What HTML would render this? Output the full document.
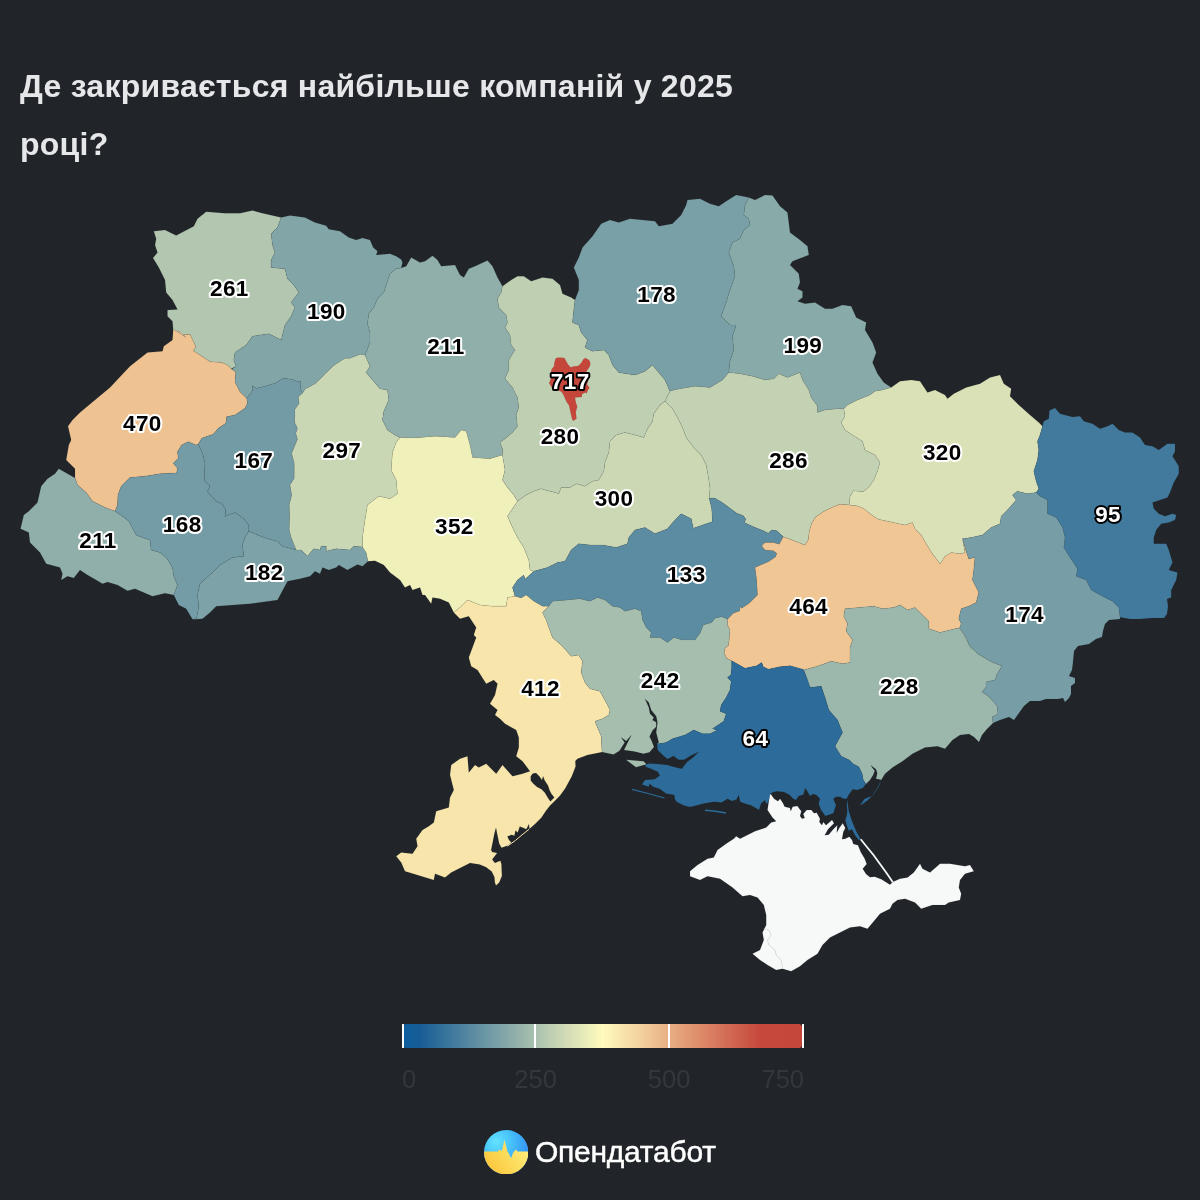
<!DOCTYPE html>
<html lang="uk"><head><meta charset="utf-8"><title>Опендатабот</title>
<style>
html,body{margin:0;padding:0;background:#212529;}
body{width:1200px;height:1200px;position:relative;overflow:hidden;font-family:"Liberation Sans","DejaVu Sans",sans-serif;}
h1{position:absolute;left:20px;top:58px;margin:0;width:760px;font-size:32px;line-height:57.5px;font-weight:700;color:#e6e7e9;letter-spacing:.25px;}
svg.map{position:absolute;left:0;top:0;}
svg.map path{stroke:rgba(30,45,40,.14);stroke-width:.45;stroke-linejoin:round;}
svg.map text{font-family:"Liberation Sans","DejaVu Sans",sans-serif;font-weight:700;font-size:22.5px;letter-spacing:.4px;text-anchor:middle;fill:#000;stroke:#fff;stroke-width:4px;paint-order:stroke fill;stroke-linejoin:round;}
svg.map text.inv{fill:#fff;stroke:#000;}
.legend{position:absolute;left:403px;top:1023.9px;width:398.5px;height:24.3px;border-radius:3.5px;background:linear-gradient(90deg,rgb(13,94,160) 0.0%,rgb(22,92,150) 4.0%,rgb(45,108,154) 8.5%,rgb(69,124,158) 13.3%,rgb(92,140,162) 17.7%,rgb(117,157,166) 22.7%,rgb(144,175,170) 28.1%,rgb(170,193,175) 33.3%,rgb(195,210,179) 38.1%,rgb(218,225,183) 42.7%,rgb(239,240,186) 46.9%,rgb(255,250,189) 50.0%,rgb(248,229,172) 54.9%,rgb(243,210,157) 59.2%,rgb(238,194,145) 62.7%,rgb(232,175,131) 66.7%,rgb(222,140,106) 74.3%,rgb(209,104,83) 82%,rgb(198,72,60) 89.5%,rgb(197,71,59) 100%);}
.tick{position:absolute;top:1023.8px;width:2.2px;height:24.5px;background:#fff;}
.tl{position:absolute;top:1064.8px;font-size:25.5px;color:#33383c;width:80px;}
.logo{position:absolute;left:483.9px;top:1130.1px;}
.brand{position:absolute;left:535px;top:1134.6px;font-size:30px;color:#fff;font-weight:400;letter-spacing:-.25px;-webkit-text-stroke:.45px #fff;}
</style></head><body>
<h1>Де закривається найбільше компаній у 2025 році?</h1>
<svg class="map" width="1200" height="1200" viewBox="0 0 1200 1200">
<g>
<path d="M173.2,330 172.5,321.2 167.5,316.2 167.5,310 177.5,309.5 172.5,300 166.2,292.5 165,280 158.8,267.5 153,258 157.5,252.5 155,245 156.2,238.8 153.8,231.2 165,230 176.2,235.5 193.8,226.2 197.5,218.8 206.2,211.8 225,213.2 240,213.2 252.5,210.5 262.5,213.2 281.2,217.5 277.5,227.5 271.2,233.8 272.5,245 275,252.5 271.2,260 271.2,267.5 285,268.8 287.5,278.8 293.8,285 298.8,292.5 291.2,302.5 295,307.5 291.2,316.2 285,325 281.2,340 268.8,333.8 252.5,336.2 246.2,345 235,352.5 233.8,360 236.2,366.2 231.2,368.8 227.5,365 221.7,362.5 210,361.7 200,355 193.3,350.8 195.8,346.7 190,334.2 181.7,335 178.3,330 186.2,337.5 175,330 173.2,330Z" fill="#b2c6b0"/>
<path d="M75,478 75,468.8 66.2,460 68.8,445 71.2,440 68,426.2 72.5,420 80,412.5 95,400 110,387.5 130,366.2 147.5,352.5 162.5,351.2 163.8,346.2 172.5,340 173.2,330 175,330 186.2,337.5 178.3,330 181.7,335 190,334.2 195.8,346.7 193.3,350.8 200,355 210,361.7 221.7,362.5 227.5,365 231.7,369.2 235.8,371.7 235,381.7 240,391.7 246.7,398.3 247.5,403.3 245,408.3 235,415 226.7,416.7 225.8,423.3 218.3,428.3 213.3,434.2 201.7,438.3 198.3,444.2 195.8,445 188.3,441.7 181.7,445 177.5,451.7 178.3,458.3 173.3,463.3 177.5,468.3 176.7,472.5 176.2,473 160,473.8 145,476.2 130,477.5 121.2,486.2 118,495 117.5,505 115,511.2 105,507.5 92.5,501.2 86.2,492.5 77.5,485 75,478Z" fill="#eec291"/>
<path d="M173.8,595 165,593.2 152.5,596.2 143.8,592.5 135,588.8 127.5,590.8 117.5,585 107.5,582 102.5,583.8 96.2,580 87.5,575 80,570 73.8,578 67.5,576.2 61.2,580 62.5,573.8 60,567.5 46.2,563.8 40,552.5 30,542.5 28.8,532.5 20.5,528.8 23.8,515 28.8,511.2 37.5,502.5 41.2,486.2 47.5,478.8 55,473.8 58.8,468.8 67.5,473.8 75,478 77.5,485 86.2,492.5 92.5,501.2 105,507.5 115,511.2 122.5,516.2 128.8,521.2 136.2,535 142.5,537.5 150,540 151.2,550 160,552.5 166.2,557.5 172.5,567.5 173.8,576.2 177.5,585 173.8,595Z" fill="#90afaa"/>
<path d="M173.8,595 177.5,585 173.8,576.2 172.5,567.5 166.2,557.5 160,552.5 151.2,550 150,540 142.5,537.5 136.2,535 128.8,521.2 122.5,516.2 115,511.2 117.5,505 118,495 121.2,486.2 130,477.5 145,476.2 160,473.8 176.2,473 176.7,472.5 177.5,468.3 173.3,463.3 178.3,458.3 177.5,451.7 181.7,445 188.3,441.7 195.8,445 198.3,444.2 202.5,453.3 205,463.3 204.2,480 210,485.8 207.5,491.7 216.7,501.7 221.7,503.3 225.8,510 225,516.7 225,516.2 235,512.5 243.8,518.8 248.8,525 248.8,531.2 245,537.5 242.5,545 243.8,556.2 232.5,557.5 220,565 212.5,572.5 200,583.8 197.5,595 198.8,606.2 197.5,613.8 196.2,619.2 192.5,619.2 186.2,608.8 178.8,605 173.8,595Z" fill="#739ca6"/>
<path d="M198.3,444.2 201.7,438.3 213.3,434.2 218.3,428.3 225.8,423.3 226.7,416.7 235,415 245,408.3 247.5,403.3 246.7,398.3 252.5,390.8 252.5,385.8 256.7,388.3 266.7,385.8 275,383.3 283.3,378.3 291.7,379.2 298.3,381.7 300.8,380.8 300.8,389.2 302.5,393.3 298.3,396.7 299.2,403.3 295,409.2 294.7,422.5 297.5,428.3 295.8,433.3 297.5,439.2 291.7,453.3 294.2,463.3 294.2,478.3 290,485 291.7,495 289.2,505 289.7,515 289.2,530 291.2,537.5 296.2,550 282.5,546.2 277.5,541.2 267.5,538.8 257.5,535 248.8,531.2 248.8,525 243.8,518.8 235,512.5 225,516.2 225,516.7 225.8,510 221.7,503.3 216.7,501.7 207.5,491.7 210,485.8 204.2,480 205,463.3 202.5,453.3 198.3,444.2Z" fill="#739ba6"/>
<path d="M281.2,217.5 290,215.5 305,217.5 315,222.5 326.2,225.8 328.8,229.2 340,231.2 348.8,237.5 356.2,240 362.5,238 370,240 373.2,247.5 377.5,251.2 376.2,255 390,253.8 396.2,256.2 401.2,259.5 402.5,262.5 401.2,268 396.2,268.8 390,273.8 386.2,285 383.8,292.5 377.5,298.8 373.8,307.5 368.8,313.8 367.5,323.8 370,332.5 370,342.5 365,355 360,354.2 350,358.3 345,358.3 333.3,365.8 323.3,375.8 315.8,383.3 305,389.2 302.5,393.3 300.8,389.2 300.8,380.8 298.3,381.7 291.7,379.2 283.3,378.3 275,383.3 266.7,385.8 256.7,388.3 252.5,385.8 252.5,390.8 246.7,398.3 240,391.7 235,381.7 235.8,371.7 231.7,369.2 236.2,366.2 233.8,360 235,352.5 246.2,345 252.5,336.2 268.8,333.8 281.2,340 285,325 291.2,316.2 295,307.5 291.2,302.5 298.8,292.5 293.8,285 287.5,278.8 285,268.8 271.2,267.5 271.2,260 275,252.5 272.5,245 271.2,233.8 277.5,227.5 281.2,217.5Z" fill="#82a6a8"/>
<path d="M302.5,393.3 305,389.2 315.8,383.3 323.3,375.8 333.3,365.8 345,358.3 350,358.3 360,354.2 365,355 370,366.2 366.2,372.5 372.5,380 380,388.8 387.5,390 388.8,400 383.8,411.2 382.5,420 387.5,430 395,435 400,437.5 396.2,442.5 392.5,452.5 391.2,470 396.2,480 397.5,493.8 390,498.8 378.8,496.2 367.5,505 365,520 362.5,537.5 362.5,547 353.8,546.2 350,550 336.2,548.8 326.2,551.2 326.2,546.2 321.2,546.2 320,550 313.8,548.8 307.5,556.2 301.2,550 296.2,550 291.2,537.5 289.2,530 289.7,515 289.2,505 291.7,495 290,485 294.2,478.3 294.2,463.3 291.7,453.3 297.5,439.2 295.8,433.3 297.5,428.3 294.7,422.5 295,409.2 299.2,403.3 298.3,396.7 302.5,393.3Z" fill="#cad7b4"/>
<path d="M196.2,619.2 197.5,613.8 198.8,606.2 197.5,595 200,583.8 212.5,572.5 220,565 232.5,557.5 243.8,556.2 242.5,545 245,537.5 248.8,531.2 257.5,535 267.5,538.8 277.5,541.2 282.5,546.2 296.2,550 301.2,550 307.5,556.2 313.8,548.8 320,550 321.2,546.2 326.2,546.2 326.2,551.2 336.2,548.8 350,550 353.8,546.2 362.5,547 366.2,552.5 368,561.2 362.5,566.2 357.5,564.5 347.5,570 338.8,565 336.2,567.5 328.8,570 322.5,567.5 320,573.8 315,571.2 310,576.2 300,578.8 287.5,581.2 277.5,600 277.5,600 250,603.8 216.2,606.2 210,612.5 202.5,618.8 196.2,619.2Z" fill="#7da2a7"/>
<path d="M401.2,268 406.2,266.2 411.2,257.5 420,262.5 425,261.2 432.5,255.8 437.5,260 441.2,266.2 455,265 460,275 463.8,277.5 468.8,268.8 475,266.2 487.5,260.5 492.5,266.2 497.5,277.5 502.5,286.2 501.2,292.5 497.5,298.8 498.8,307.5 506.2,315 507.5,322.5 505,327.5 510,335 511.2,345 515,350 508.8,360 508.8,370 505,378.8 512.5,387.5 517.5,397.5 518.8,407.5 516.2,415 517.5,426.2 512.5,432.5 505,438.8 500,442.5 502.5,448.8 502.5,455 490,458.8 472.5,457.5 470,445 466.2,431.2 461.2,430 455,437.5 435,436.2 415,438 400,437.5 395,435 387.5,430 382.5,420 383.8,411.2 388.8,400 387.5,390 380,388.8 372.5,380 366.2,372.5 370,366.2 365,355 370,342.5 370,332.5 367.5,323.8 368.8,313.8 373.8,307.5 377.5,298.8 383.8,292.5 386.2,285 390,273.8 396.2,268.8 401.2,268Z" fill="#90afaa"/>
<path d="M400,437.5 415,438 435,436.2 455,437.5 461.2,430 466.2,431.2 470,445 472.5,457.5 490,458.8 502.5,455 505,470 502.5,480 507.5,487.5 513.8,495 517.5,501.2 507.5,516.2 512.5,527.5 517.5,537.5 523.8,547.5 528.8,560 530,570 533.8,571.2 525,579.2 523.8,575 517.5,580 512.5,587.5 515,596.2 507.5,597.5 506.2,606.2 505,606.2 492.5,606.2 480,605 467.5,600 460,607.5 453.8,612.5 448.8,602.5 440,598.8 432.5,597.5 431.2,603.8 425,595 422.5,595 420,587.5 412.5,590 410,585 405,587.5 400,580 390,572.5 383.8,565 375,560.8 368,561.2 366.2,552.5 362.5,547 362.5,537.5 365,520 367.5,505 378.8,496.2 390,498.8 397.5,493.8 396.2,480 391.2,470 392.5,452.5 396.2,442.5 400,437.5Z" fill="#eff0ba"/>
<path d="M502.5,286.2 511.2,280 517.5,276.2 523.8,276.2 531.2,281.2 542.5,277.5 552.5,278.8 560,285 562.5,293.8 571.2,297.5 575,300 573.8,310 572.5,322.5 578.8,325 581.2,332.5 587.5,340 585,347.5 592.5,351.2 603.8,350 608.8,355 612.5,365 618.8,372.5 635,375 645,371.2 652.5,365 658.8,372.5 665,380 670,391.2 665,401.2 660,405 653.8,413.8 652.5,421.2 647.5,428.8 643.8,437.5 635,435 625,432.5 616.2,435 610,441.2 608.8,452.5 605,462.5 603.8,471.2 598.8,480 592.5,481.2 585,486.2 576.2,483.8 570,487.5 561.2,487.5 558.8,493.8 555,492.5 545,490 541.2,488.8 533.8,491.2 526.2,495 517.5,501.2 513.8,495 507.5,487.5 502.5,480 505,470 502.5,455 502.5,448.8 500,442.5 505,438.8 512.5,432.5 517.5,426.2 516.2,415 518.8,407.5 517.5,397.5 512.5,387.5 505,378.8 508.8,370 508.8,360 515,350 511.2,345 510,335 505,327.5 507.5,322.5 506.2,315 498.8,307.5 497.5,298.8 501.2,292.5 502.5,286.2Z" fill="#bfcfb2"/>
<path d="M575,300 578.8,290 578.8,280 573.8,267.5 578.8,257.5 582.5,247.5 592.5,236.2 601.2,223.8 610,220 618.8,222.5 630,218.8 642.5,220 655,221.2 658.8,226.2 672.5,223.8 681.2,215 686.2,205 687.5,200 700,198.8 710,203.8 718.8,206.2 726.2,201.2 736.2,195 742.5,196.2 748.8,197.5 745,205 743.8,215 748.8,218.8 750,225 743.8,230 740,238.8 732.5,242.5 728.8,252.5 733.8,266.2 735,276.2 730,290 726.2,302.5 721.2,316.2 730,325 736.2,325 732.5,336.2 733.8,350 730,361.2 728.8,372.5 722.5,380 710,387.5 695,386.2 680,388.8 673.8,390 670,391.2 665,380 658.8,372.5 652.5,365 645,371.2 635,375 618.8,372.5 612.5,365 608.8,355 603.8,350 592.5,351.2 585,347.5 587.5,340 581.2,332.5 578.8,325 572.5,322.5 573.8,310 575,300Z" fill="#7aa0a7"/>
<path d="M748.8,197.5 755,200 765,195 772.5,195.5 780,206.2 787.5,212.5 790,232.5 800,240 807.5,246.2 808.8,255 792.5,261.2 790,265 798.8,273.8 800,282.5 797.5,288.8 802.5,291.2 802.5,297.5 797.5,301.2 805,303.8 815,302.5 825,308.8 832.5,308.8 842.5,305 851.2,306.2 856.2,317.5 866.2,322.5 865,330 872.5,342.5 876.2,352.5 872.5,362.5 877.5,373.8 883.8,382.5 891.2,387.5 882.5,390 875,391.2 870,395 857.5,400 847.5,405 843.8,408.8 837.5,408.8 825,410 817.5,412.5 817.5,406.2 811.2,397.5 808.8,390 802.5,380 800,372.5 787.5,377.5 778.8,373.8 773.8,378.8 765,380 752.5,376.2 740,373.8 728.8,372.5 730,361.2 733.8,350 732.5,336.2 736.2,325 730,325 721.2,316.2 726.2,302.5 730,290 735,276.2 733.8,266.2 728.8,252.5 732.5,242.5 740,238.8 743.8,230 750,225 748.8,218.8 743.8,215 745,205 748.8,197.5Z" fill="#88aaa9"/>
<path d="M670,391.2 673.8,390 680,388.8 695,386.2 710,387.5 722.5,380 728.8,372.5 740,373.8 752.5,376.2 765,380 773.8,378.8 778.8,373.8 787.5,377.5 800,372.5 802.5,380 808.8,390 811.2,397.5 817.5,406.2 817.5,412.5 825,410 837.5,408.8 843.8,408.8 845,416.2 841.2,422.5 845,430 852.5,435 862.5,441.2 865,450 875,455 880,462.5 877.5,471.2 873.8,480 869.2,486.7 863.3,491.7 853.3,490.8 850,496.7 849.2,505 840,504.2 831.7,507.5 823.3,511.7 815.8,516.7 811.7,523.3 809.2,531.7 808.3,540 805,545 798.3,542.5 790,539.2 783.3,536.7 776.7,530.8 771.7,530 768.3,533.3 763.3,530.8 753.3,526.7 744.2,522.5 745.8,519.2 743.3,515.8 736.7,513.3 723.3,503.3 715,498.3 709.2,498.3 710,488.3 708.8,480 706.2,465 701.2,455 693.8,447.5 686.2,437.5 682.5,427.5 677.5,417.5 672.5,408.8 665,401.2 670,391.2Z" fill="#c3d2b3"/>
<path d="M517.5,501.2 526.2,495 533.8,491.2 541.2,488.8 545,490 555,492.5 558.8,493.8 561.2,487.5 570,487.5 576.2,483.8 585,486.2 592.5,481.2 598.8,480 603.8,471.2 605,462.5 608.8,452.5 610,441.2 616.2,435 625,432.5 635,435 643.8,437.5 647.5,428.8 652.5,421.2 653.8,413.8 660,405 665,401.2 672.5,408.8 677.5,417.5 682.5,427.5 686.2,437.5 693.8,447.5 701.2,455 706.2,465 708.8,480 710,488.3 709.2,498.3 711.7,508.3 712.5,521.7 705,524.2 693.3,528.3 691.2,518.8 681.2,513.8 673.8,521.2 667.5,528.8 655,533.8 645,527.5 635,530 628.8,537.5 627.5,543.8 616.2,547.5 602.5,545 590,545 578.8,543.8 571.2,550 565,561.2 557.5,562.5 547.5,567.5 533.8,571.2 530,570 528.8,560 523.8,547.5 517.5,537.5 512.5,527.5 507.5,516.2 517.5,501.2Z" fill="#ccd8b4"/>
<path d="M533.8,571.2 547.5,567.5 557.5,562.5 565,561.2 571.2,550 578.8,543.8 590,545 602.5,545 616.2,547.5 627.5,543.8 628.8,537.5 635,530 645,527.5 655,533.8 667.5,528.8 673.8,521.2 681.2,513.8 691.2,518.8 693.3,528.3 705,524.2 712.5,521.7 711.7,508.3 709.2,498.3 715,498.3 723.3,503.3 736.7,513.3 743.3,515.8 745.8,519.2 744.2,522.5 753.3,526.7 763.3,530.8 768.3,533.3 771.7,530 776.7,530.8 783.3,536.7 779.2,544.2 773.3,542.5 765,542.5 761.7,545.8 765,550 773.3,550.8 776.7,553.3 775.8,556.7 768.3,561.7 755,567.5 756.7,580 757.5,595 749.2,603.3 741.7,608.3 740,606.7 740,610.8 733.3,613.3 727.5,619.2 721.7,616.7 715,618.3 711.7,622.5 703.3,625 700,633.3 695,640 682.5,640 673.8,637.5 667.5,642.5 660,637.5 650,637.5 651.2,632.5 646.2,627.5 642.5,620 641.2,611.2 635,608.8 625,611.2 620,607.5 612.5,606.2 605,600 597.5,597.5 590,601.2 580,598.8 567.5,600 552.5,601.2 548.8,606.2 542.5,606.2 533.8,601.2 526.2,595 521.2,598 515,596.2 512.5,587.5 517.5,580 523.8,575 525,579.2 533.8,571.2Z" fill="#5c8ca2"/>
<path d="M453.8,612.5 460,607.5 467.5,600 480,605 492.5,606.2 505,606.2 506.2,606.2 507.5,597.5 515,596.2 521.2,598 526.2,595 533.8,601.2 542.5,606.2 548.8,606.2 542.5,612.5 546.2,620 548.8,627.5 552.5,637.5 562.5,646.2 571.2,656.2 578.8,655 582.5,661.2 581.2,672.5 585,682.5 590,688.8 600,691.2 606.2,702.5 610,710 608.8,715 602.5,718.8 595,721.2 597.5,727.5 601.2,736.2 602,752 600,752.5 587.5,755 577.5,758.8 575.3,761.1 575.6,766.5 571.8,776.2 565.3,788.2 559.9,795.7 554.5,801.2 550.1,805.5 545.8,810.9 541.5,817.4 535,823.9 529.4,829 529,823.9 526.3,829.3 524.2,828.2 519.8,826.6 517.7,832.6 515.5,830.4 514.4,835.8 511.7,834.7 507.4,836.4 509,840.1 511.2,842.3 507.9,845.6 501.4,847.7 499.2,843.4 497.1,833.6 496,827.7 494.4,833.6 492.7,842.3 491.1,849.9 492.2,852.1 497.1,853.1 492.2,859.6 494.9,862.9 500.3,860.7 501.4,864 501.9,875.9 499.2,882.4 496,885.6 494.9,882.4 494.4,877 491.7,871.6 486.2,867.2 479.7,864.5 470,862.9 451.2,872.5 445,877.5 435,873.8 433.8,880 405,871.2 401.2,862.5 396.2,856.2 401.2,852.5 412.5,853.8 417.5,846.2 416.2,838.8 422.5,830 428.8,826.2 433.8,822.5 436.2,811.2 448.8,807.5 450,797.5 453.8,790 450,775 451.2,765 460,758.8 467.5,756.2 468.8,772.5 475,765 478.8,767.5 486.2,763.8 496.2,773.8 502.5,765 512.5,776.2 522.5,773.8 530,771.2 522.5,761.2 516.2,756.2 518.8,747.5 518.8,737.5 516.2,730 505,723.8 500,718.8 495,715 497.5,710 490,703.8 495,695 497.5,683.8 493.8,680 486.2,683.8 477.5,670 471.2,666.2 468.8,657.5 472.5,647.5 476.2,637.5 473.8,635 476.2,627.5 468.8,616.2 460,618.8 453.8,612.5Z" fill="#f8e5ac"/>
<path d="M602,752 601.2,736.2 597.5,727.5 595,721.2 602.5,718.8 608.8,715 610,710 606.2,702.5 600,691.2 590,688.8 585,682.5 581.2,672.5 582.5,661.2 578.8,655 571.2,656.2 562.5,646.2 552.5,637.5 548.8,627.5 546.2,620 542.5,612.5 548.8,606.2 552.5,601.2 567.5,600 580,598.8 590,601.2 597.5,597.5 605,600 612.5,606.2 620,607.5 625,611.2 635,608.8 641.2,611.2 642.5,620 646.2,627.5 651.2,632.5 650,637.5 660,637.5 667.5,642.5 673.8,637.5 682.5,640 695,640 700,633.3 703.3,625 711.7,622.5 715,618.3 721.7,616.7 727.5,619.2 727.5,625 730,630 729.2,640 728.3,645.8 725,648.3 724.2,653.3 726.7,658.3 731.7,660.8 731.7,668.3 730.8,675 727.5,677.5 731.2,681.2 730,690 726.2,697.5 721.2,705 720,711.2 726.2,713.8 723.8,721.2 712.5,728.8 717.5,730 710,733.8 702.5,733.8 693.8,730 685,735 672.5,738.8 666.2,742.5 658.8,743.8 657,743.2 658.8,742.5 656.2,732.5 657.5,722.5 656.2,716.2 651.2,710 648.8,702.5 645,698.8 648.8,707.5 650,713.8 653.8,717.5 651.2,722.5 652.5,720 656.2,722.2 656.2,726.7 652.5,730.5 649.5,736.5 651.7,741 654,747 649.5,752.2 643.5,753.7 634.5,751.5 624,750 627.7,742.5 631.5,735 626.2,741 621,737.2 624.7,742.5 619.5,750.7 613.5,754.5 601.9,751.9Z" fill="#a5beae"/>
<path d="M727.5,619.2 733.3,613.3 740,610.8 740,606.7 741.7,608.3 749.2,603.3 757.5,595 756.7,580 755,567.5 768.3,561.7 775.8,556.7 776.7,553.3 773.3,550.8 765,550 761.7,545.8 765,542.5 773.3,542.5 779.2,544.2 783.3,536.7 790,539.2 798.3,542.5 805,545 808.3,540 809.2,531.7 811.7,523.3 815.8,516.7 823.3,511.7 831.7,507.5 840,504.2 849.2,505 856.7,505.8 863.3,508.3 871.7,515 878.3,519.2 890,521.7 905,525 912.5,522.5 915,528.8 921.2,535 926.2,543.8 932.5,553.8 940,563.8 945,556.2 951.2,552.5 960,553.8 965,552.5 963.8,546.2 962.5,538.8 966.2,551.2 968.8,558.8 975,557.5 973.8,570 972.5,580 978.8,592.5 976.2,602.5 968.8,606.2 961.2,608.8 958.8,618.8 961.2,623.8 959.5,628 955,628.8 940,632.5 928.8,628.8 928.8,621.2 922.5,615 915,607.5 907.5,610 900,605 893.8,607.5 882.5,608.8 873.8,606.2 860,607.5 845,608.8 843.8,616.2 847.5,623.8 846.2,631.2 852.5,640 850,647.5 850,662.5 842.5,663.8 831.2,661.2 817.5,666.2 803.8,670 790,665.8 780,666.7 768.3,669.2 763.3,666.7 761.7,662.5 756.7,665.8 745,668.3 731.7,660.8 726.7,658.3 724.2,653.3 725,648.3 728.3,645.8 729.2,640 730,630 727.5,625 727.5,619.2Z" fill="#efc694"/>
<path d="M891.2,387.5 900,381.2 911.2,380 920,381.2 927.5,392.5 935,390 945,395 947.5,398.8 953.8,393.8 966.2,387.5 980,383.8 990,377.5 1000,375 1003.8,383.8 1011.2,388.8 1010,396.2 1018.8,405 1030,415 1038.8,422.5 1042.5,426.2 1040,435 1037.5,441.2 1038.8,450 1037.5,460 1033.8,471.2 1036.2,481.2 1038.8,488.8 1036.2,492.5 1027.5,493.8 1017.5,491.2 1012.5,495 1016.2,500 1007.5,510 1001.2,516.2 1000,523.8 991.2,527.5 982.5,535 971.2,537.5 962.5,538.8 963.8,546.2 965,552.5 960,553.8 951.2,552.5 945,556.2 940,563.8 932.5,553.8 926.2,543.8 921.2,535 915,528.8 912.5,522.5 905,525 890,521.7 878.3,519.2 871.7,515 863.3,508.3 856.7,505.8 849.2,505 850,496.7 853.3,490.8 863.3,491.7 869.2,486.7 873.8,480 877.5,471.2 880,462.5 875,455 865,450 862.5,441.2 852.5,435 845,430 841.2,422.5 845,416.2 843.8,408.8 847.5,405 857.5,400 870,395 875,391.2 882.5,390 891.2,387.5Z" fill="#dae1b7"/>
<path d="M1042.5,426.2 1043.8,421.2 1048.8,418.8 1049.5,410.5 1055,408 1060,413.8 1072.5,417 1080,416.2 1083.8,421.2 1092.5,423.8 1100,428.8 1107.5,426.2 1112.5,423.8 1118.8,430 1125,432.5 1132.5,432.5 1140,437.5 1145,445 1152.5,446.2 1158.8,450 1167.5,443.8 1175,443.8 1175,451.2 1172.5,456.2 1178.8,466.2 1178.8,473.8 1173.8,482.5 1170,492.5 1167.5,497.5 1160,500 1152.5,502.5 1153.8,508.8 1158.8,513.8 1165,516.2 1172.5,513.8 1176.2,515 1175,520 1168.8,522.5 1161.2,523.8 1156.2,530 1153.8,537.5 1153.8,543.8 1166.2,543.8 1168.8,550 1172.5,562.5 1168.8,570 1177.5,572.5 1176.2,580 1171.2,590 1171.2,597.5 1167,599 1168,606 1167,614 1164,618 1152,618 1140,619 1130,619 1120,617.2 1118.8,607.5 1112.5,601.2 1102.5,596.2 1091.2,590 1086.2,580 1076.2,576.2 1077.5,568.8 1070,557.5 1063.8,547.5 1065,537.5 1062.5,527.5 1056.2,517.5 1047.5,513.8 1047.5,500 1040,496.2 1036.2,492.5 1038.8,488.8 1036.2,481.2 1033.8,471.2 1037.5,460 1038.8,450 1037.5,441.2 1040,435 1042.5,426.2Z" fill="#427a9e"/>
<path d="M962.5,538.8 971.2,537.5 982.5,535 991.2,527.5 1000,523.8 1001.2,516.2 1007.5,510 1016.2,500 1012.5,495 1017.5,491.2 1027.5,493.8 1036.2,492.5 1040,496.2 1047.5,500 1047.5,513.8 1056.2,517.5 1062.5,527.5 1065,537.5 1063.8,547.5 1070,557.5 1077.5,568.8 1076.2,576.2 1086.2,580 1091.2,590 1102.5,596.2 1112.5,601.2 1118.8,607.5 1120,617.2 1120,619 1109,620 1105,624 1103,631 1102,637 1096,639 1089,644 1078,646 1074,651 1073,662 1072,670 1069,676 1075,678 1075,683 1071,686 1071,694 1069,698 1065,702 1063,698 1058,699 1046,699 1040,701 1030,701 1024,706 1019,713 1014,720 1009,717 1000,720 993,723 992,717 998,714 997,706 992,700 988,696 982,692 986,687 986,682 995,680 997,674 1002,666 994,663 988,660 978,654 970,646 964,636 971.2,650 966.2,637.5 959.5,628 961.2,623.8 958.8,618.8 961.2,608.8 968.8,606.2 976.2,602.5 978.8,592.5 972.5,580 973.8,570 975,557.5 968.8,558.8 966.2,551.2 962.5,538.8Z" fill="#779ea6"/>
<path d="M803.8,670 817.5,666.2 831.2,661.2 842.5,663.8 850,662.5 850,647.5 852.5,640 846.2,631.2 847.5,623.8 843.8,616.2 845,608.8 860,607.5 873.8,606.2 882.5,608.8 893.8,607.5 900,605 907.5,610 915,607.5 922.5,615 928.8,621.2 928.8,628.8 940,632.5 955,628.8 959.5,628 966.2,637.5 971.2,650 964,636 970,646 978,654 988,660 994,663 1002,666 997,674 995,680 986,682 986,687 982,692 988,696 992,700 997,706 998,714 992,717 993,723 987,729 982,735 979,742 974,737 969,734 960,735 952.5,740 945,748.8 937.5,746.2 925,747.5 912.5,753.8 902.5,761.2 892.5,767.5 885,773.8 881.2,780 881.3,780 878.7,779.3 876,778.7 877.3,773.3 876,769.3 870.7,765.3 872,767.3 874.7,770.7 873.3,774.7 870,780 866,784 863.3,780 862,773.3 858.7,766.7 853.3,764 849.3,760 841.2,756.2 835,746.2 842.5,732.5 837.5,720 828.8,710 825,697.5 821.2,686.2 810,687.5 807.5,680 803.8,670Z" fill="#9cb7ac"/>
<path d="M731.7,660.8 745,668.3 756.7,665.8 761.7,662.5 763.3,666.7 768.3,669.2 780,666.7 790,665.8 803.3,669.2 807.5,680 810,687.5 821.2,686.2 825,697.5 828.8,710 837.5,720 842.5,732.5 835,746.2 841.2,756.2 849.3,760 853.3,764 858.7,766.7 862,773.3 863.3,780 866,784 862.7,788 857.3,790 852.7,789.3 848.7,794.7 846.7,798.7 843.3,798.7 840,796.7 836,796.7 833.3,798.7 836,805.3 833.3,813.3 825.3,816 820.7,809.3 818.7,804 820,798.7 816,794.7 812.7,794 810,796 807.3,791.3 805.3,788 803.3,794.7 798.7,796 796,800 793.3,798.7 789.3,794.7 784,792 777.3,791.3 773.3,792 770,794 770.2,795 768.7,801 766.5,804 765,800.2 761.2,803.2 759,810 751.5,805.5 746.2,804 740.2,801.7 738.7,795 736.5,799.5 732,801 727.5,798.7 721.5,802.5 714,801.7 705,803.2 696,805.5 690,807 684,805.5 676.5,801.7 675,799.5 674.2,795 666,793.5 660,789 653.2,786.7 649.5,783.7 648.7,786.7 642,784.5 645,780 654.7,779.2 660,775.5 657.7,771.7 651,768.7 645,766.5 646.5,764.2 649.5,763.5 660,764.2 667.5,765 675,767.2 681.7,768.7 687,762 693,757.5 699,751.8 691.5,755.2 684,759.7 678.7,759.7 673.5,756 667.5,759 663,755.2 657.7,750 657,743.2 658.8,743.8 666.2,742.5 672.5,738.8 685,735 693.8,730 702.5,733.8 710,733.8 717.5,730 712.5,728.8 723.8,721.2 726.2,713.8 720,711.2 721.2,705 726.2,697.5 730,690 731.2,681.2 727.5,677.5 730.8,675 731.7,668.3 731.7,660.8Z" fill="#2d6c9a"/>
<path d="M626.2,759.7 643.5,761.2 646.5,764.2 636,767.2 630,762.7Z" fill="#a5beae"/>
<path d="M847.3,800 848.7,810.7 852,821.3 856,830.7 860.7,839.3 858.7,840 854.7,834.7 852,829.3 848.7,830.7 846.7,825.3 845.3,820 846.7,816 847.3,810.7 846.7,805.3Z" fill="#2d6c9a"/>
<path d="M860,805.3 864.7,798.7 872,796 877.3,788 881.3,780 878.7,786.7 873.3,794.7 868,800 862.7,804Z" fill="#2d6c9a"/>
<path d="M770.7,794 774,798.7 778,801.3 780,798.7 782.7,802.7 784.7,806.7 790,808 790.7,811.3 792.7,806.7 797.3,806 801.3,811.3 800,816 802,818.7 804.7,818 803.3,814 806.7,810 811.3,810 814,813.3 816.7,812.7 820,818.7 819.3,822 822,825.3 823.3,822 826,825.3 832,820 834,823.3 828,829.3 824.7,835.3 828.7,834.7 833.3,829.3 837.3,825.3 836.7,832.7 839.3,828 842.7,823.3 845.3,828 843.3,832 842,839.3 845.3,838.7 849.3,836.7 852,840 853.3,844 858,845.3 860.7,852 864.7,858.7 866.7,864 862.7,868.7 866,874 870,877.3 874.7,876.7 881.3,879.3 890,884.7 892.7,882 900,878.8 907.5,877.5 913.8,872.5 920,863.8 922.5,868.8 930,872.5 940,863.8 950,863.8 965,866.2 970,865 973.8,871.2 965,873.8 960,880 958.8,887.5 961.2,893.8 960,900 948.8,902.5 945,905 932.5,905 921.2,908.8 915,902.5 905,898.8 897.5,900 892.5,903.8 890,908.8 880,913.8 873.8,921.2 867.5,928.8 860,926.2 850,927.5 840,932.5 830,937.5 822.5,945 817.5,953.8 807.5,960 800,966.2 791.2,971.2 782.5,968.8 776.2,970 767.5,965 760,960 752.5,953.8 760,950 763.8,940 762.5,932.5 766.2,925 766.2,915 763.8,905 757.5,897.5 750,895 742.5,896.2 732.5,887.5 720,878.8 707.5,876.2 700,880 690,876.2 690,871.2 697.5,865 707.5,858.8 713.8,857.5 717.5,850 726.2,843.8 733.8,838.8 736.2,836.2 740,838.8 755,831.2 766.2,827.5 771.2,822.5 776.2,821.2 772.5,817.5 767.5,810 768.8,801.2 770,795Z" fill="#f7f8f8"/>
<path d="M555.9,358 559.6,357.4 564.5,358 566,361 568.3,364.8 570.9,367.4 572.8,366.4 578,366.1 581,363.3 583.6,359.1 585.5,358 589.3,360.3 590.4,363.3 590,365.9 588.1,368.9 586.3,371.5 587.8,374.5 588.5,379 587,384.3 589.6,388 587.8,389.9 586.6,393.6 585.5,392.5 582.1,394 581.8,397 575,397.4 575.8,402.3 577.3,406.8 576.9,407.9 575.8,412 576.5,418.8 573.1,421 572,418.8 570.9,413.9 569.8,409 569,405.3 566.8,402.3 565.3,399.3 563.8,395.5 561.5,391.8 557.8,390.3 552.5,388.8 549.1,383.1 549.9,380.9 551.8,376 551,371.5 551.8,368.9 554,366.3 554.4,362.5Z" fill="#c5473b"/>
<path d="M550.4,801.5 548,797.9 544.7,792.5 541.5,789.2 537.1,787.1 533.4,783.8 530.7,780.6 530.7,776.2 532.8,773.5 536.1,773 539.3,776.2 542,780 543.1,776.2 544.7,780.6 548,785.5 549.6,790.3 551.2,793.6 554.3,797.6Z" fill="#212529"/>
<path d="M860.7,839.3 866.7,846.7 873.3,854.7 880,864 886.7,873.3 892.7,882" style="fill:none;stroke:#f7f8f8;stroke-width:1.8"/>
<path d="M763.8,928.8 768.8,930 771.2,935 767.5,940 768.8,945 775,950 776.2,955 781.2,960 782.5,967.5" style="fill:none;stroke:#c4c4c4;stroke-width:.6"/>
<path d="M632.2,789.3 648,793.5 664.5,798" style="fill:none;stroke:#2d6c9a;stroke-width:1.2"/>
<path d="M705,810.3 715.5,811.2 726,813" style="fill:none;stroke:#2d6c9a;stroke-width:1.6"/>
<path d="M507.4,846.1 515.5,840.4 522,834.9 529,829.3" style="fill:none;stroke:#f8e5ac;stroke-width:1.0"/>
</g>
<g>
<text x="229.4" y="295.6">261</text>
<text x="326.4" y="319.0">190</text>
<text x="445.9" y="354.0">211</text>
<text x="656.6" y="301.5">178</text>
<text x="802.9" y="353.4">199</text>
<text class="inv" x="570.2" y="389.1">717</text>
<text x="560.0" y="444.0">280</text>
<text x="142.4" y="431.2">470</text>
<text x="253.9" y="467.7">167</text>
<text x="341.9" y="457.9">297</text>
<text x="788.5" y="467.8">286</text>
<text x="942.3" y="459.6">320</text>
<text class="inv" x="1108.1" y="522.1">95</text>
<text x="614.0" y="505.8">300</text>
<text x="454.4" y="533.8">352</text>
<text x="98.0" y="547.8">211</text>
<text x="182.2" y="531.5">168</text>
<text x="264.3" y="579.6">182</text>
<text x="686.2" y="581.5">133</text>
<text x="808.6" y="614.0">464</text>
<text x="1024.6" y="621.7">174</text>
<text x="540.5" y="695.8">412</text>
<text x="660.2" y="688.2">242</text>
<text x="899.4" y="693.5">228</text>
<text class="inv" x="755.4" y="746.2">64</text>
</g>
</svg>
<div class="legend"></div>
<div class="tick" style="left:402px"></div><div class="tick" style="left:534px"></div><div class="tick" style="left:667.9px"></div><div class="tick" style="left:801.9px"></div>
<div class="tl" style="left:402px;text-align:left">0</div>
<div class="tl" style="left:495.6px;text-align:center">250</div>
<div class="tl" style="left:629.1px;text-align:center">500</div>
<div class="tl" style="left:724px;text-align:right">750</div>
<svg class="logo" width="44.4" height="44.4" viewBox="0 0 44.4 44.4">
<defs><clipPath id="c"><circle cx="22.2" cy="22.2" r="22.2"/></clipPath>
<radialGradient id="gb" cx="0.28" cy="0.26" r="0.75"><stop offset="0" stop-color="#63e3fd"/><stop offset="0.45" stop-color="#46c2fb"/><stop offset="1" stop-color="#3590f2"/></radialGradient>
<linearGradient id="gy" x1="0" y1="1" x2="1" y2="0.45"><stop offset="0" stop-color="#fabf33"/><stop offset="0.5" stop-color="#fcd653"/><stop offset="1" stop-color="#feea76"/></linearGradient></defs>
<g clip-path="url(#c)"><rect width="44.4" height="44.4" fill="url(#gb)"/>
<path d="M0,21.4 L14,21.4 L14.9,19.6 L15.6,20.6 L16.3,19.5 L17.2,21 L18,20.5 L20.4,9.7 L23.2,20.5 L24.8,23.5 L27.1,28.2 L29,23 L30.2,21.3 L32.1,19.5 L33.6,21.4 L44.4,21.4 L44.4,44.4 L0,44.4Z" fill="url(#gy)"/></g>
</svg>
<div class="brand">Опендатабот</div>
</body></html>
